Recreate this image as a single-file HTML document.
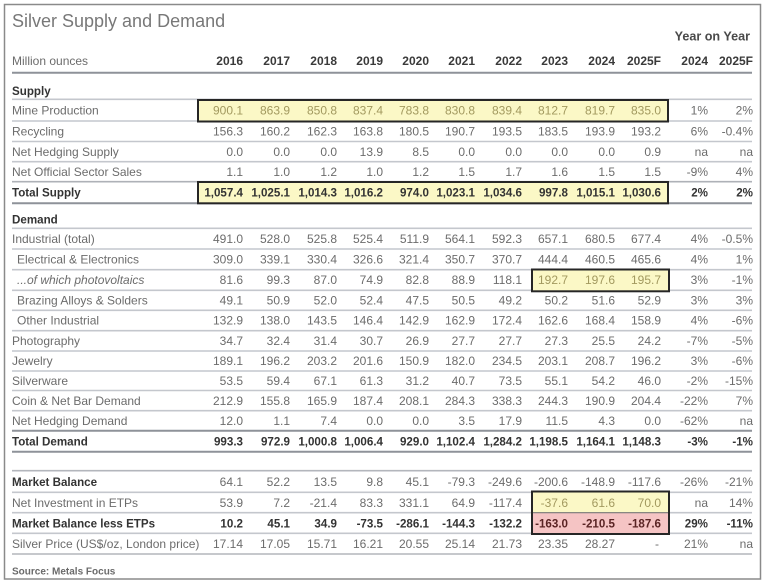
<!DOCTYPE html>
<html><head><meta charset="utf-8"><style>
html,body{margin:0;padding:0;background:#fff;}
svg{display:block;font-family:"Liberation Sans",Arial,sans-serif;}
.n{fill:#6c6c6c;font-size:12px;}
.b{fill:#333;font-size:11.6px;font-weight:bold;}
.h{fill:#3a3a3a;font-size:12px;font-weight:bold;}
.t{fill:#a2995f;font-size:12px;}
.e text{text-anchor:end;}
.lt{stroke:#c4c7cd;stroke-width:1.6;}
.dk{stroke:#8e9299;stroke-width:2;}
</style></head><body>
<svg width="765" height="585" viewBox="0 0 765 585" xmlns="http://www.w3.org/2000/svg">
<rect x="0" y="0" width="765" height="585" fill="#fff"/>
<rect x="4.5" y="4.5" width="756" height="574.5" fill="none" stroke="#8a8a8a" stroke-width="1.5"/>

<text x="12" y="27" font-size="18" fill="#787878">Silver Supply and Demand</text>
<text x="750" y="40.5" text-anchor="end" font-size="12.6" font-weight="bold" fill="#4a4a4a">Year on Year</text>

<!-- lines -->
<g>
<line class="dk" x1="12" x2="752" y1="72.7" y2="72.7"/>
<line class="lt" x1="12" x2="752" y1="99.3" y2="99.3"/>
<line class="lt" x1="12" x2="752" y1="121" y2="121"/>
<line class="lt" x1="12" x2="752" y1="141.5" y2="141.5"/>
<line class="lt" x1="12" x2="752" y1="161.7" y2="161.7"/>
<line class="lt" x1="12" x2="752" y1="181.7" y2="181.7" style="stroke:#aeb1b7"/>
<line class="dk" x1="12" x2="752" y1="203.3" y2="203.3"/>
<line class="lt" x1="12" x2="752" y1="228.3" y2="228.3"/>
<line class="lt" x1="12" x2="752" y1="249" y2="249"/>
<line class="lt" x1="12" x2="752" y1="269.7" y2="269.7"/>
<line class="lt" x1="12" x2="752" y1="290.3" y2="290.3"/>
<line class="lt" x1="12" x2="752" y1="310.3" y2="310.3"/>
<line class="lt" x1="12" x2="752" y1="330.7" y2="330.7"/>
<line class="lt" x1="12" x2="752" y1="351" y2="351"/>
<line class="lt" x1="12" x2="752" y1="371" y2="371"/>
<line class="lt" x1="12" x2="752" y1="390.5" y2="390.5"/>
<line class="lt" x1="12" x2="752" y1="410.7" y2="410.7"/>
<line class="dk" x1="12" x2="752" y1="430.7" y2="430.7"/>
<line class="dk" x1="12" x2="752" y1="451.7" y2="451.7"/>
<line class="lt" x1="12" x2="752" y1="470.7" y2="470.7" style="stroke:#b3b6bc"/>
<line class="lt" x1="12" x2="752" y1="492.3" y2="492.3"/>
<line class="lt" x1="12" x2="752" y1="512.7" y2="512.7"/>
<line class="lt" x1="12" x2="752" y1="533.3" y2="533.3"/>
<line class="lt" x1="12" x2="752" y1="554" y2="554" style="stroke:#b3b6bc"/>
</g>

<!-- highlight boxes -->
<rect x="198" y="100" width="470" height="21.5" fill="#fbf8c6" stroke="#262626" stroke-width="2"/>
<rect x="198" y="182" width="470" height="21.3" fill="#fbf8c6" stroke="#262626" stroke-width="2"/>
<rect x="532" y="269.5" width="137" height="21.8" fill="#fbf8c6" stroke="#262626" stroke-width="2"/>
<rect x="532" y="491.5" width="137" height="21.2" fill="#fbf8c6"/>
<rect x="532" y="512.7" width="137" height="21.3" fill="#f5c4c4"/>
<line x1="532" x2="669" y1="512.7" y2="512.7" stroke="#777" stroke-width="1.2"/>
<rect x="532" y="491.5" width="137" height="42.5" fill="none" stroke="#262626" stroke-width="2"/>

<!-- header -->
<text class="n" x="12" y="65">Million ounces</text>
<g class="e h">
<text x="243" y="65">2016</text><text x="290" y="65">2017</text><text x="337" y="65">2018</text><text x="383" y="65">2019</text><text x="429" y="65">2020</text><text x="475" y="65">2021</text><text x="522" y="65">2022</text><text x="568" y="65">2023</text><text x="615" y="65">2024</text><text x="661" y="65">2025F</text><text x="708" y="65">2024</text><text x="753" y="65">2025F</text>
</g>

<text class="b" x="12" y="95">Supply</text>

<!-- Mine Production -->
<text class="n" x="12" y="114.5">Mine Production</text>
<g class="e t">
<text x="243" y="114.5">900.1</text><text x="290" y="114.5">863.9</text><text x="337" y="114.5">850.8</text><text x="383" y="114.5">837.4</text><text x="429" y="114.5">783.8</text><text x="475" y="114.5">830.8</text><text x="522" y="114.5">839.4</text><text x="568" y="114.5">812.7</text><text x="615" y="114.5">819.7</text><text x="661" y="114.5">835.0</text>
</g>
<g class="e n"><text x="708" y="114.5">1%</text><text x="753" y="114.5">2%</text></g>

<!-- Recycling -->
<text class="n" x="12" y="135.5">Recycling</text>
<g class="e n">
<text x="243" y="135.5">156.3</text><text x="290" y="135.5">160.2</text><text x="337" y="135.5">162.3</text><text x="383" y="135.5">163.8</text><text x="429" y="135.5">180.5</text><text x="475" y="135.5">190.7</text><text x="522" y="135.5">193.5</text><text x="568" y="135.5">183.5</text><text x="615" y="135.5">193.9</text><text x="661" y="135.5">193.2</text><text x="708" y="135.5">6%</text><text x="753" y="135.5">-0.4%</text>
</g>

<!-- Net Hedging Supply -->
<text class="n" x="12" y="155.8">Net Hedging Supply</text>
<g class="e n">
<text x="243" y="155.8">0.0</text><text x="290" y="155.8">0.0</text><text x="337" y="155.8">0.0</text><text x="383" y="155.8">13.9</text><text x="429" y="155.8">8.5</text><text x="475" y="155.8">0.0</text><text x="522" y="155.8">0.0</text><text x="568" y="155.8">0.0</text><text x="615" y="155.8">0.0</text><text x="661" y="155.8">0.9</text><text x="708" y="155.8">na</text><text x="753" y="155.8">na</text>
</g>

<!-- Net Official Sector Sales -->
<text class="n" x="12" y="176">Net Official Sector Sales</text>
<g class="e n">
<text x="243" y="176">1.1</text><text x="290" y="176">1.0</text><text x="337" y="176">1.2</text><text x="383" y="176">1.0</text><text x="429" y="176">1.2</text><text x="475" y="176">1.5</text><text x="522" y="176">1.7</text><text x="568" y="176">1.6</text><text x="615" y="176">1.5</text><text x="661" y="176">1.5</text><text x="708" y="176">-9%</text><text x="753" y="176">4%</text>
</g>

<!-- Total Supply -->
<text class="b" x="12" y="196.5">Total Supply</text>
<g class="e b">
<text x="243" y="196.5">1,057.4</text><text x="290" y="196.5">1,025.1</text><text x="337" y="196.5">1,014.3</text><text x="383" y="196.5">1,016.2</text><text x="429" y="196.5">974.0</text><text x="475" y="196.5">1,023.1</text><text x="522" y="196.5">1,034.6</text><text x="568" y="196.5">997.8</text><text x="615" y="196.5">1,015.1</text><text x="661" y="196.5">1,030.6</text><text x="708" y="196.5">2%</text><text x="753" y="196.5">2%</text>
</g>

<text class="b" x="12" y="223.5">Demand</text>

<!-- Industrial -->
<text class="n" x="12" y="243">Industrial (total)</text>
<g class="e n">
<text x="243" y="243">491.0</text><text x="290" y="243">528.0</text><text x="337" y="243">525.8</text><text x="383" y="243">525.4</text><text x="429" y="243">511.9</text><text x="475" y="243">564.1</text><text x="522" y="243">592.3</text><text x="568" y="243">657.1</text><text x="615" y="243">680.5</text><text x="661" y="243">677.4</text><text x="708" y="243">4%</text><text x="753" y="243">-0.5%</text>
</g>

<!-- Electrical -->
<text class="n" x="17" y="263.5">Electrical &amp; Electronics</text>
<g class="e n">
<text x="243" y="263.5">309.0</text><text x="290" y="263.5">339.1</text><text x="337" y="263.5">330.4</text><text x="383" y="263.5">326.6</text><text x="429" y="263.5">321.4</text><text x="475" y="263.5">350.7</text><text x="522" y="263.5">370.7</text><text x="568" y="263.5">444.4</text><text x="615" y="263.5">460.5</text><text x="661" y="263.5">465.6</text><text x="708" y="263.5">4%</text><text x="753" y="263.5">1%</text>
</g>

<!-- PV -->
<text class="n" x="17" y="284.2" font-style="italic">...of which photovoltaics</text>
<g class="e n">
<text x="243" y="284.2">81.6</text><text x="290" y="284.2">99.3</text><text x="337" y="284.2">87.0</text><text x="383" y="284.2">74.9</text><text x="429" y="284.2">82.8</text><text x="475" y="284.2">88.9</text><text x="522" y="284.2">118.1</text>
</g>
<g class="e t"><text x="568" y="284.2">192.7</text><text x="615" y="284.2">197.6</text><text x="661" y="284.2">195.7</text></g>
<g class="e n"><text x="708" y="284.2">3%</text><text x="753" y="284.2">-1%</text></g>

<!-- Brazing -->
<text class="n" x="17" y="304.5">Brazing Alloys &amp; Solders</text>
<g class="e n">
<text x="243" y="304.5">49.1</text><text x="290" y="304.5">50.9</text><text x="337" y="304.5">52.0</text><text x="383" y="304.5">52.4</text><text x="429" y="304.5">47.5</text><text x="475" y="304.5">50.5</text><text x="522" y="304.5">49.2</text><text x="568" y="304.5">50.2</text><text x="615" y="304.5">51.6</text><text x="661" y="304.5">52.9</text><text x="708" y="304.5">3%</text><text x="753" y="304.5">3%</text>
</g>

<!-- Other Industrial -->
<text class="n" x="17" y="324.7">Other Industrial</text>
<g class="e n">
<text x="243" y="324.7">132.9</text><text x="290" y="324.7">138.0</text><text x="337" y="324.7">143.5</text><text x="383" y="324.7">146.4</text><text x="429" y="324.7">142.9</text><text x="475" y="324.7">162.9</text><text x="522" y="324.7">172.4</text><text x="568" y="324.7">162.6</text><text x="615" y="324.7">168.4</text><text x="661" y="324.7">158.9</text><text x="708" y="324.7">4%</text><text x="753" y="324.7">-6%</text>
</g>

<!-- Photography -->
<text class="n" x="12" y="345">Photography</text>
<g class="e n">
<text x="243" y="345">34.7</text><text x="290" y="345">32.4</text><text x="337" y="345">31.4</text><text x="383" y="345">30.7</text><text x="429" y="345">26.9</text><text x="475" y="345">27.7</text><text x="522" y="345">27.7</text><text x="568" y="345">27.3</text><text x="615" y="345">25.5</text><text x="661" y="345">24.2</text><text x="708" y="345">-7%</text><text x="753" y="345">-5%</text>
</g>

<!-- Jewelry -->
<text class="n" x="12" y="365.2">Jewelry</text>
<g class="e n">
<text x="243" y="365.2">189.1</text><text x="290" y="365.2">196.2</text><text x="337" y="365.2">203.2</text><text x="383" y="365.2">201.6</text><text x="429" y="365.2">150.9</text><text x="475" y="365.2">182.0</text><text x="522" y="365.2">234.5</text><text x="568" y="365.2">203.1</text><text x="615" y="365.2">208.7</text><text x="661" y="365.2">196.2</text><text x="708" y="365.2">3%</text><text x="753" y="365.2">-6%</text>
</g>

<!-- Silverware -->
<text class="n" x="12" y="385.2">Silverware</text>
<g class="e n">
<text x="243" y="385.2">53.5</text><text x="290" y="385.2">59.4</text><text x="337" y="385.2">67.1</text><text x="383" y="385.2">61.3</text><text x="429" y="385.2">31.2</text><text x="475" y="385.2">40.7</text><text x="522" y="385.2">73.5</text><text x="568" y="385.2">55.1</text><text x="615" y="385.2">54.2</text><text x="661" y="385.2">46.0</text><text x="708" y="385.2">-2%</text><text x="753" y="385.2">-15%</text>
</g>

<!-- Coin -->
<text class="n" x="12" y="405">Coin &amp; Net Bar Demand</text>
<g class="e n">
<text x="243" y="405">212.9</text><text x="290" y="405">155.8</text><text x="337" y="405">165.9</text><text x="383" y="405">187.4</text><text x="429" y="405">208.1</text><text x="475" y="405">284.3</text><text x="522" y="405">338.3</text><text x="568" y="405">244.3</text><text x="615" y="405">190.9</text><text x="661" y="405">204.4</text><text x="708" y="405">-22%</text><text x="753" y="405">7%</text>
</g>

<!-- Net Hedging Demand -->
<text class="n" x="12" y="425">Net Hedging Demand</text>
<g class="e n">
<text x="243" y="425">12.0</text><text x="290" y="425">1.1</text><text x="337" y="425">7.4</text><text x="383" y="425">0.0</text><text x="429" y="425">0.0</text><text x="475" y="425">3.5</text><text x="522" y="425">17.9</text><text x="568" y="425">11.5</text><text x="615" y="425">4.3</text><text x="661" y="425">0.0</text><text x="708" y="425">-62%</text><text x="753" y="425">na</text>
</g>

<!-- Total Demand -->
<text class="b" x="12" y="445.5">Total Demand</text>
<g class="e b">
<text x="243" y="445.5">993.3</text><text x="290" y="445.5">972.9</text><text x="337" y="445.5">1,000.8</text><text x="383" y="445.5">1,006.4</text><text x="429" y="445.5">929.0</text><text x="475" y="445.5">1,102.4</text><text x="522" y="445.5">1,284.2</text><text x="568" y="445.5">1,198.5</text><text x="615" y="445.5">1,164.1</text><text x="661" y="445.5">1,148.3</text><text x="708" y="445.5">-3%</text><text x="753" y="445.5">-1%</text>
</g>

<!-- Market Balance -->
<text class="b" x="12" y="486">Market Balance</text>
<g class="e n">
<text x="243" y="486">64.1</text><text x="290" y="486">52.2</text><text x="337" y="486">13.5</text><text x="383" y="486">9.8</text><text x="429" y="486">45.1</text><text x="475" y="486">-79.3</text><text x="522" y="486">-249.6</text><text x="568" y="486">-200.6</text><text x="615" y="486">-148.9</text><text x="661" y="486">-117.6</text><text x="708" y="486">-26%</text><text x="753" y="486">-21%</text>
</g>

<!-- Net Investment in ETPs -->
<text class="n" x="12" y="507">Net Investment in ETPs</text>
<g class="e n">
<text x="243" y="507">53.9</text><text x="290" y="507">7.2</text><text x="337" y="507">-21.4</text><text x="383" y="507">83.3</text><text x="429" y="507">331.1</text><text x="475" y="507">64.9</text><text x="522" y="507">-117.4</text>
</g>
<g class="e t"><text x="568" y="507">-37.6</text><text x="615" y="507">61.6</text><text x="661" y="507">70.0</text></g>
<g class="e n"><text x="708" y="507">na</text><text x="753" y="507">14%</text></g>

<!-- Market Balance less ETPs -->
<text class="b" x="12" y="527.3">Market Balance less ETPs</text>
<g class="e b">
<text x="243" y="527.3">10.2</text><text x="290" y="527.3">45.1</text><text x="337" y="527.3">34.9</text><text x="383" y="527.3">-73.5</text><text x="429" y="527.3">-286.1</text><text x="475" y="527.3">-144.3</text><text x="522" y="527.3">-132.2</text>
<text x="568" y="527.3" fill="#5a2424">-163.0</text><text x="615" y="527.3" fill="#5a2424">-210.5</text><text x="661" y="527.3" fill="#5a2424">-187.6</text>
<text x="708" y="527.3">29%</text><text x="753" y="527.3">-11%</text>
</g>

<!-- Silver Price -->
<text class="n" x="12" y="548">Silver Price (US$/oz, London price)</text>
<g class="e n">
<text x="243" y="548">17.14</text><text x="290" y="548">17.05</text><text x="337" y="548">15.71</text><text x="383" y="548">16.21</text><text x="429" y="548">20.55</text><text x="475" y="548">25.14</text><text x="522" y="548">21.73</text><text x="568" y="548">23.35</text><text x="615" y="548">28.27</text><text x="659" y="548">-</text><text x="708" y="548">21%</text><text x="753" y="548">na</text>
</g>

<text x="12" y="574.5" font-size="10" font-weight="bold" fill="#6a6a6a">Source: Metals Focus</text>
</svg>
</body></html>
